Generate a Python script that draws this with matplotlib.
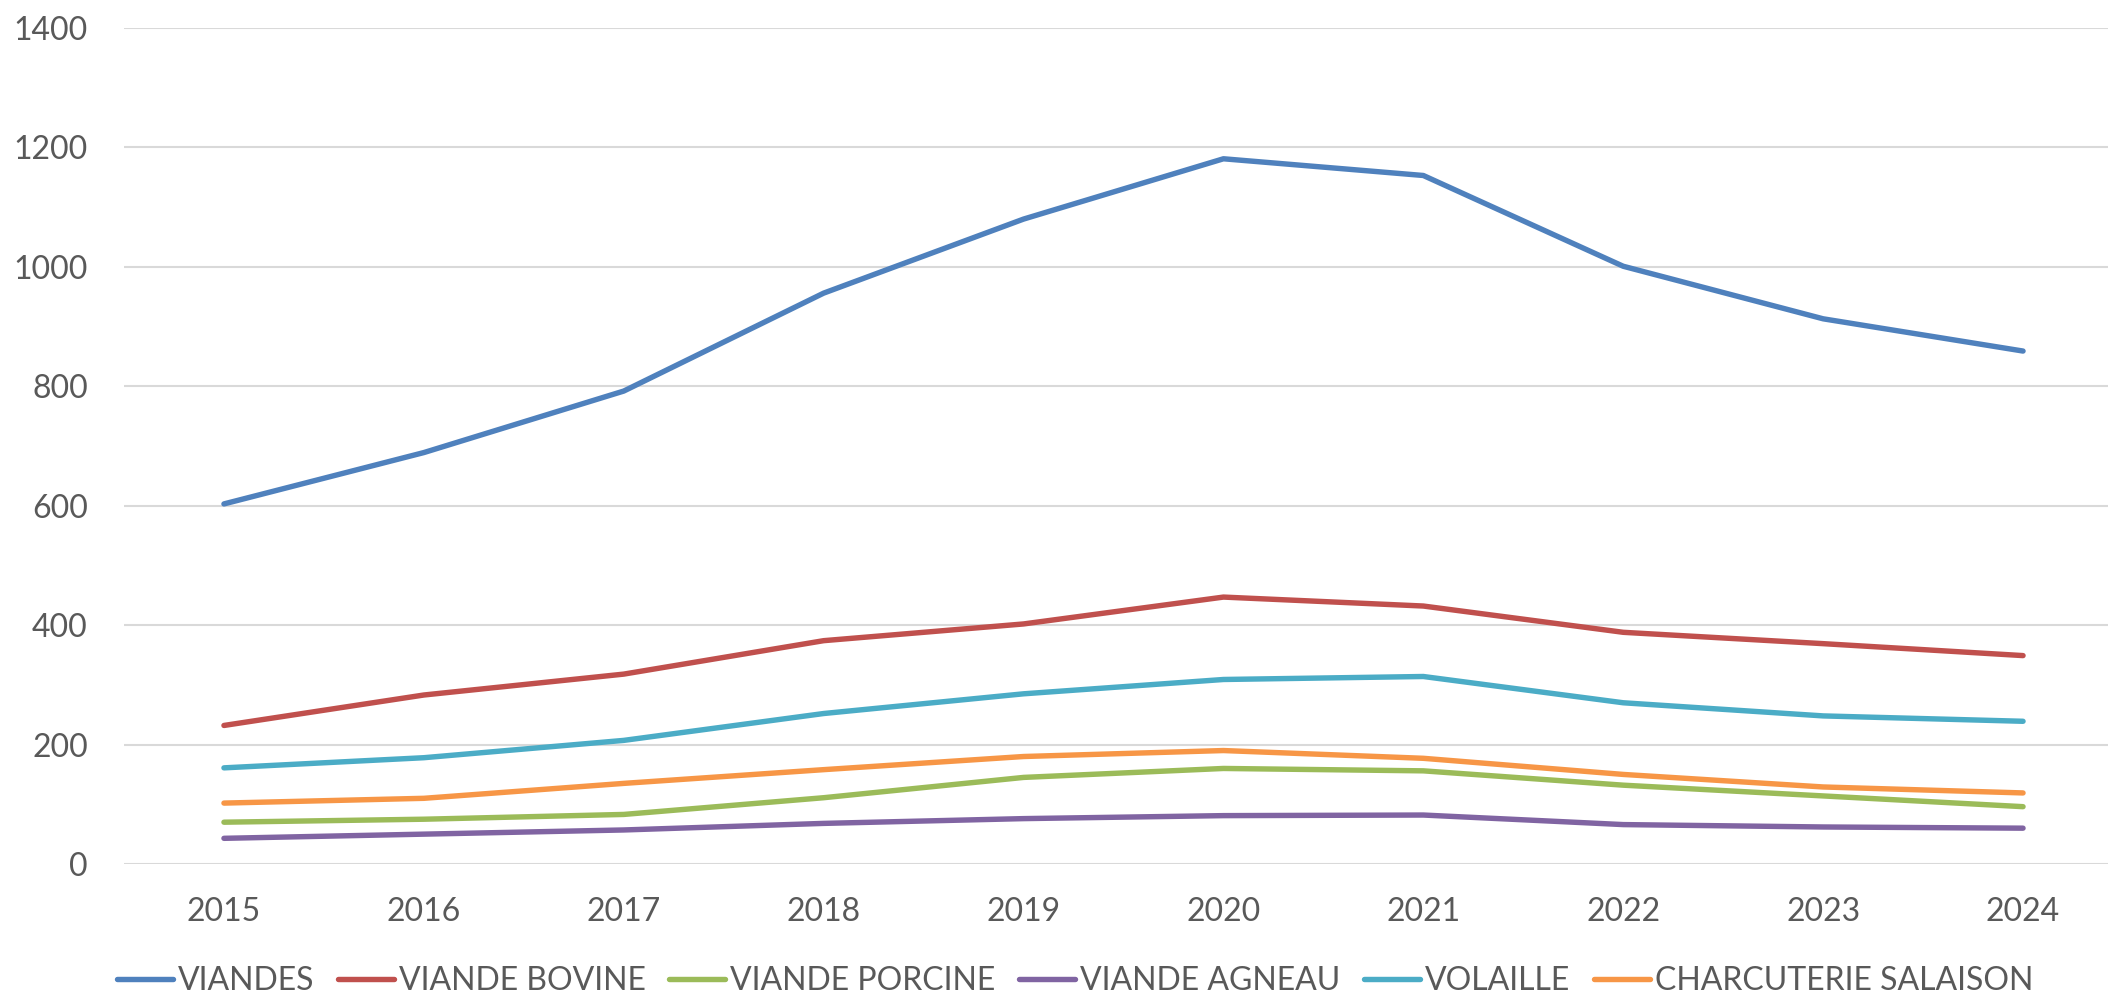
import matplotlib
matplotlib.use("Agg")
import matplotlib.pyplot as plt

years = ["2015", "2016", "2017", "2018", "2019", "2020", "2021", "2022", "2023", "2024"]
viandes = [603, 689, 792, 956, 1080, 1181, 1153, 1001, 913, 859]
bovine = [232, 283, 318, 374, 402, 447, 432, 388, 369, 349]
porcine = [70, 75, 83, 111, 145, 160, 156, 132, 114, 96]
agneau = [43, 50, 57, 68, 76, 81, 82, 66, 62, 60]
volaille = [161, 178, 207, 252, 285, 309, 314, 270, 248, 239]
charcuterie = [102, 110, 135, 158, 180, 190, 177, 150, 129, 119]

series_names = ["VIANDES", "VIANDE BOVINE", "VIANDE PORCINE", "VIANDE AGNEAU", "VOLAILLE", "CHARCUTERIE SALAISON"]
series_values = [viandes, bovine, porcine, agneau, volaille, charcuterie]
colors = ["#4F81BD", "#C0504D", "#9BBB59", "#8064A2", "#4BACC6", "#F79646"]

plt.rcParams['font.family'] = ['Lato', 'DejaVu Sans']
text_color = "#595959"

W, H = 2108, 997
fig = plt.figure(figsize=(W / 100, H / 100), dpi=100)
ax = fig.add_axes([124 / W, (H - 864) / H, (W - 124) / W, (864 - 28) / H])

x = list(range(len(years)))
for name, vals, c in zip(series_names, series_values, colors):
    ax.plot(x, vals, color=c, lw=3.9, label=name, solid_capstyle='round', solid_joinstyle='round')

ax.set_xlim(-0.5, 9.425)
ax.set_ylim(0, 1400)
ax.set_yticks(range(0, 1401, 200))
ax.set_xticks(x)
ax.set_xticklabels(years)
ax.grid(axis='y', color='#D9D9D9', lw=1.5)
ax.set_axisbelow(True)
for s in ax.spines.values():
    s.set_visible(False)
ax.tick_params(axis='both', length=0, labelsize=23, colors=text_color)
ax.tick_params(axis='y', pad=26)
ax.tick_params(axis='x', pad=24)

leg = fig.legend(loc='center', bbox_to_anchor=(1075 / W, (H - 981) / H), ncol=6, frameon=False,
                 fontsize=23, handlelength=1.75, handletextpad=0.15, columnspacing=0.75, labelcolor=text_color)

fig.savefig("out.png", dpi=100)
